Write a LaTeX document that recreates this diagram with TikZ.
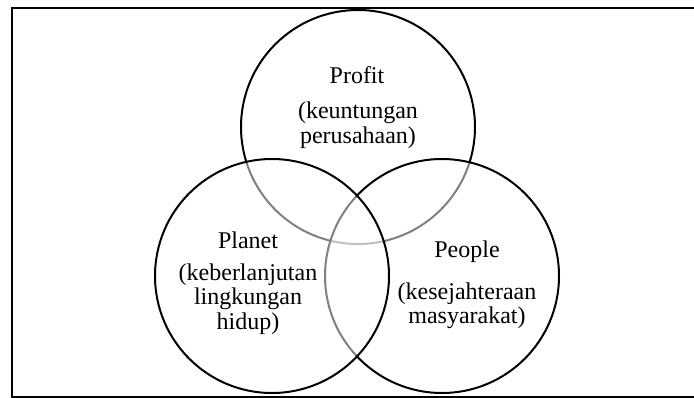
\documentclass[tikz,border=0pt]{standalone}
\usepackage{fontspec}
\setmainfont{Liberation Serif}
\begin{document}
\begin{tikzpicture}[x=1pt,y=-1pt,
  ring/.style={circle, draw=black, line width=2pt, minimum size=234pt, inner sep=0pt},
  veil/.style={ring, fill=white, fill opacity=0.5},
  title/.style={font=\fontsize{24}{24}\selectfont, inner sep=0pt},
  desc/.style={font=\fontsize{24}{24.5}\selectfont, inner sep=0pt, align=center}]
\useasboundingbox (0,0) rectangle (694,397);
\clip (0,0) rectangle (694,397);
\node[draw=black, line width=2pt, minimum width=700pt, minimum height=389pt, inner sep=0pt, anchor=north west] (frame) at (11,7) {};
\node[ring] (profitc) at (358,127) {};
\node[veil] (peoplec) at (442,276) {};
\node[veil] (planetc) at (272,276) {};
\node[title] (profit) at (357,75) {Profit};
\node[desc] (profitd) at (358,125) {(keuntungan\\perusahaan)};
\node[title] (planet) at (248,240) {Planet};
\node[desc] (planetd) at (248,299) {(keberlanjutan\\lingkungan\\hidup)};
\node[title] (people) at (467,252) {People};
\node[desc] (peopled) at (467,306) {(kesejahteraan\\masyarakat)};
\end{tikzpicture}
\end{document}
